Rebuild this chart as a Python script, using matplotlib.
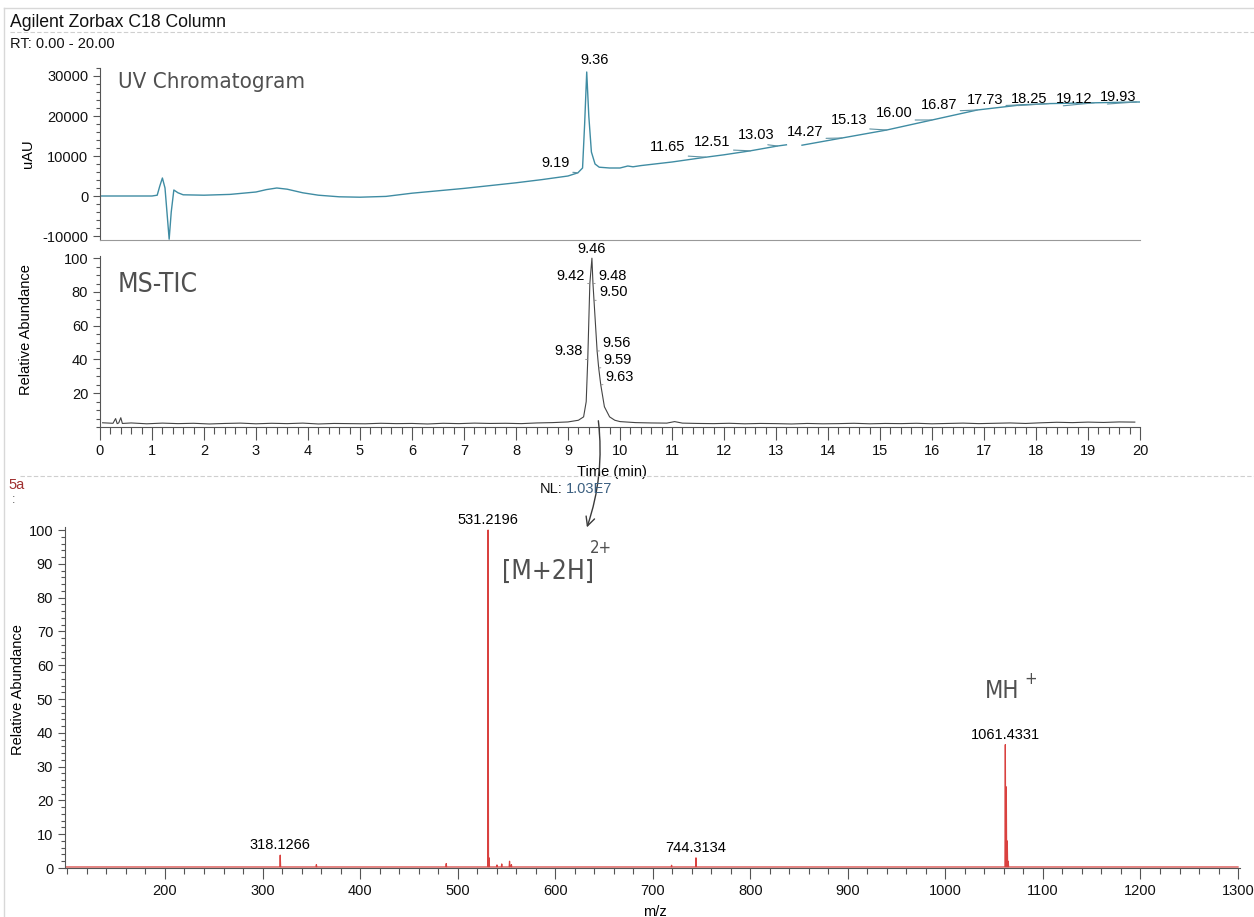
import numpy as np
import matplotlib.pyplot as plt
from matplotlib.lines import Line2D
from matplotlib.ticker import MultipleLocator

plt.rcParams['font.family'] = ['Liberation Sans', 'DejaVu Sans']
plt.rcParams['axes.unicode_minus'] = False

# UV trace (time in min, signal in uAU)
uv_t = [0.0, 1.0, 1.1, 1.15, 1.2, 1.25, 1.3, 1.33, 1.37, 1.42, 1.5, 1.6, 2.0, 2.5,
        3.0, 3.2, 3.4, 3.6, 3.9, 4.2, 4.6, 5.0, 5.5, 6.0, 6.5, 7.0, 7.5, 8.0, 8.5,
        9.0, 9.19, 9.28, 9.32, 9.36, 9.40, 9.45, 9.52, 9.6, 9.8, 10.0, 10.15, 10.25,
        10.4, 11.0, 11.65, 12.0, 12.51, 13.03, 13.2, 13.35, 13.5, 14.27, 15.13,
        16.0, 16.87, 17.73, 18.25, 19.12, 19.93, 20.0]
uv_v = [0, 0, 200, 2500, 4500, 2000, -6000, -10800, -4000, 1500, 800, 300, 200, 400,
        1000, 1600, 2000, 1700, 800, 200, -200, -300, -100, 700, 1300, 1900, 2600, 3300,
        4100, 5000, 5800, 7000, 18000, 31000, 20000, 11000, 8000, 7200, 7000, 7000, 7500,
        7300, 7600, 8500, 9700, 10300, 11300, 12500, 12800, np.nan, 12700, 14500, 16500,
        19000, 21500, 22800, 23100, 23300, 23500, 23500]
uv_peaks = [9.19, 11.65, 12.51, 13.03, 14.27, 15.13, 16.00, 16.87, 17.73, 18.25, 19.12, 19.93]
uv_apex = 9.36

# total ion current (relative abundance)
tic_t = [0.05, 0.25, 0.3, 0.33, 0.36, 0.4, 0.43, 0.6, 0.9, 1.2, 1.5, 1.8, 2.1, 2.4, 2.7,
         3.0, 3.3, 3.6, 3.9, 4.2, 4.5, 4.8, 5.1, 5.4, 5.7, 6.0, 6.3, 6.6, 6.9, 7.2, 7.5,
         7.8, 8.1, 8.4, 8.7, 9.0, 9.2, 9.3, 9.35, 9.38, 9.42, 9.46, 9.48, 9.50, 9.56,
         9.59, 9.63, 9.70, 9.80, 9.90, 10.0, 10.3, 10.6, 10.9, 11.05, 11.2, 11.5, 11.8,
         12.1, 12.4, 12.7, 13.0, 13.3, 13.6, 13.9, 14.2, 14.5, 14.8, 15.1, 15.4, 15.7,
         16.0, 16.3, 16.6, 16.9, 17.2, 17.5, 17.8, 18.1, 18.4, 18.7, 19.0, 19.3, 19.6, 19.9]
tic_v = [2.5, 2.2, 5.0, 2.0, 2.4, 5.5, 2.1, 2.4, 1.9, 2.3, 2.0, 2.2, 1.8, 2.1, 2.3,
         1.9, 2.2, 2.0, 2.3, 1.8, 2.1, 2.0, 1.9, 2.2, 2.0, 2.1, 1.8, 2.2, 2.0, 2.3, 2.1,
         2.2, 2.0, 2.4, 2.6, 3.0, 4.0, 6.0, 15.0, 40.0, 85.0, 100.0, 85.0, 75.0, 45.0,
         35.0, 25.0, 12.0, 6.0, 4.0, 3.2, 2.6, 2.4, 2.3, 3.2, 2.3, 2.1, 2.0, 2.2, 1.9,
         2.1, 2.0, 1.8, 2.1, 1.9, 2.0, 2.2, 1.9, 2.1, 2.0, 2.2, 1.9, 2.1, 2.3, 2.0, 2.2,
         2.4, 2.1, 2.5, 2.8, 2.6, 2.9, 2.7, 3.0, 2.9]
tic_labels = [9.38, 9.42, 9.46, 9.48, 9.50, 9.56, 9.59, 9.63]

# mass spectrum at the TIC apex (m/z, relative abundance)
ms_mz = [318.1266, 355.2, 488.3, 531.2196, 532.22, 540.3, 545.2, 553.2, 555.1,
         719.3, 744.3134, 1061.4331, 1062.43, 1063.43, 1064.4]
ms_ab = [3.8, 1.0, 1.3, 100.0, 3.0, 0.9, 1.2, 2.0, 1.0, 0.8, 3.0, 36.5, 24.0, 8.0, 2.0]
ms_labelled = [318.1266, 531.2196, 744.3134, 1061.4331]

W, H = 1254, 917
fig = plt.figure(figsize=(W / 100, H / 100), dpi=100)
fig.patch.set_facecolor('white')

def fx(px):
    return px / W

def fy(py):
    return 1 - py / H

grey = '#555555'
fs = 10.5
hand = dict(family='DejaVu Sans', fontstretch='condensed', color='#505050')

def style_axes(ax):
    for s in ['top', 'right']:
        ax.spines[s].set_visible(False)
    for s in ['left', 'bottom']:
        ax.spines[s].set_color(grey)
        ax.spines[s].set_linewidth(0.8)
    ax.tick_params(which='both', colors=grey, labelcolor='#111111', labelsize=fs, width=0.8)
    ax.tick_params(which='major', length=5)
    ax.tick_params(which='minor', length=3)

# --- UV chromatogram ---
ax1 = fig.add_axes([fx(100), fy(240), fx(1040), 172 / H])
ax1.plot(uv_t, uv_v, color='#3f8ca3', lw=1.0)
ax1.set_xlim(0, 20)
ax1.set_ylim(-11000, 32000)
style_axes(ax1)
ax1.spines['bottom'].set_color('#999999')
ax1.set_xticks([])
ax1.yaxis.set_major_locator(MultipleLocator(10000))
ax1.yaxis.set_minor_locator(MultipleLocator(2000))
ax1.set_ylabel('uAU', fontsize=fs)
ax1.yaxis.set_label_coords(-0.0625, 0.5)

# label placement (pixels from the peak point) for the integrated UV peaks
uv_dx = [-22, -38, -38, -21, -37, -38, -38, -38, -37, -20, -20, -18]
uv_dy = [10, 10, 9, 11, 6, 10, 7, 5, 5, 5, 4, 5]
uv_t_ok = [t for t, v in zip(uv_t, uv_v) if not np.isnan(v)]
uv_v_ok = [v for v in uv_v if not np.isnan(v)]
for t, dx, dy in zip(uv_peaks, uv_dx, uv_dy):
    v = np.interp(t, uv_t_ok, uv_v_ok)
    ax1.annotate(f'{t:.2f}', xy=(t, v), xytext=(dx, dy), textcoords='offset pixels',
                 ha='center', va='center', fontsize=fs,
                 arrowprops=dict(arrowstyle='-', color='#5f93a4', lw=0.8,
                                 shrinkA=0, shrinkB=0, relpos=(0.2, 0.0)))
ax1.annotate(f'{uv_apex:.2f}', xy=(uv_apex, max(uv_v_ok)), xytext=(8, 5),
             textcoords='offset pixels', ha='center', va='bottom', fontsize=fs)

fig.text(fx(118), fy(88), 'UV Chromatogram', fontsize=16, **hand)

# --- MS total ion current ---
ax2 = fig.add_axes([fx(100), fy(427), fx(1040), 171 / H])
ax2.plot(tic_t, tic_v, color='#444444', lw=0.8)
ax2.set_xlim(0, 20)
ax2.set_ylim(0, 101.3)
style_axes(ax2)
ax2.xaxis.set_major_locator(MultipleLocator(1))
ax2.xaxis.set_minor_locator(MultipleLocator(0.2))
ax2.set_yticks([20, 40, 60, 80, 100])
ax2.yaxis.set_minor_locator(MultipleLocator(5))
ax2.tick_params(axis='x', which='major', length=9)
ax2.tick_params(axis='x', which='minor', length=5)
ax2.set_ylabel('Relative Abundance', fontsize=fs)
ax2.yaxis.set_label_coords(-0.0644, 0.567)
ax2.set_xlabel('Time (min)', fontsize=fs)
ax2.xaxis.set_label_coords(0.492, -0.222)

for t in tic_labels:
    v = np.interp(t, tic_t, tic_v)
    if t == 9.46:
        off, ha = (0, 2), 'center'
    elif t < 9.46:
        off, ha = (-5, 1), 'right'
    else:
        off, ha = (5, 1), 'left'
    ax2.annotate(f'{t:.2f}', xy=(t, v), xytext=off, textcoords='offset pixels',
                 ha=ha, va='bottom', fontsize=fs,
                 arrowprops=None if t == 9.46 else dict(arrowstyle='-', color='#888888',
                                                         lw=0.6, shrinkA=0, shrinkB=0,
                                                         relpos=(0.5, 0.0)))

fig.text(fx(118), fy(292), 'MS-TIC', fontsize=19, **hand)

# --- mass spectrum ---
ax3 = fig.add_axes([fx(65), fy(868), fx(1175), 341 / H])
prof_x, prof_y = [ms_mz[0] - 220], [0.3]
for m, a in zip(ms_mz, ms_ab):
    prof_x += [m - 0.4, m, m + 0.4]
    prof_y += [0.3, a, 0.3]
prof_x.append(1300)
prof_y.append(0.3)
ax3.plot(prof_x, prof_y, color='#d9413f', lw=0.9)
ax3.set_xlim(97.5, 1302)
ax3.set_ylim(0, 100.9)
style_axes(ax3)
ax3.xaxis.set_minor_locator(MultipleLocator(20))
ax3.set_xticks(np.arange(200, 1301, 100))
ax3.yaxis.set_major_locator(MultipleLocator(10))
ax3.yaxis.set_minor_locator(MultipleLocator(2))
ax3.tick_params(axis='x', which='major', length=8)
ax3.tick_params(axis='x', which='minor', length=4)
ax3.set_ylabel('Relative Abundance', fontsize=fs)
ax3.yaxis.set_label_coords(-0.034, 0.522)
ax3.set_xlabel('m/z', fontsize=fs)
ax3.xaxis.set_label_coords(0.502, -0.108)

for m in ms_labelled:
    a = ms_ab[ms_mz.index(m)]
    ax3.annotate(f'{m:.4f}', xy=(m, a), xytext=(0, 3), textcoords='offset pixels',
                 ha='center', va='bottom', fontsize=fs)

# page header and separators
fig.text(fx(10), fy(27), 'Agilent Zorbax C18 Column', fontsize=12.7, color='#111111')
fig.text(fx(10), fy(48), 'RT: 0.00 - 20.00', fontsize=10.5, color='#111111')
fig.text(fx(8), fy(489), '5a', fontsize=fs, color='#a03030')
fig.text(fx(12), fy(503), ':', fontsize=9, color='#555555')
fig.text(fx(540), fy(493), 'NL:', fontsize=fs, color='#111111')
fig.text(fx(566), fy(493), '1.03E7', fontsize=fs, color='#3b5f80')

fig.add_artist(Line2D([fx(4), fx(1254)], [fy(8), fy(8)], color='#d8d8d8', lw=1))
fig.add_artist(Line2D([fx(4), fx(4)], [fy(8), fy(917)], color='#d8d8d8', lw=1))
fig.add_artist(Line2D([fx(10), fx(1254)], [fy(32), fy(32)], color='#cfcfcf', lw=0.8, ls=(0, (4, 2))))
fig.add_artist(Line2D([fx(20), fx(1254)], [fy(476), fy(476)], color='#cfcfcf', lw=0.8, ls=(0, (4, 2))))

# handwritten notes on the ions
fig.text(fx(502), fy(572), '[M+2H]', fontsize=19, va='center', **hand)
fig.text(fx(590), fy(548), '2+', fontsize=12, va='center', **hand)
fig.text(fx(985), fy(691), 'MH', fontsize=17, va='center', **hand)
fig.text(fx(1024), fy(679), '+', fontsize=12, va='center', **hand)
ax3.annotate('', xy=(fx(586), fy(530)), xytext=(fx(598), fy(418)),
             xycoords='figure fraction', textcoords='figure fraction',
             arrowprops=dict(arrowstyle='->', color='#3a3a3a', lw=1.0,
                             connectionstyle='arc3,rad=-0.12', mutation_scale=16))

fig.savefig('out.png', dpi=100)
